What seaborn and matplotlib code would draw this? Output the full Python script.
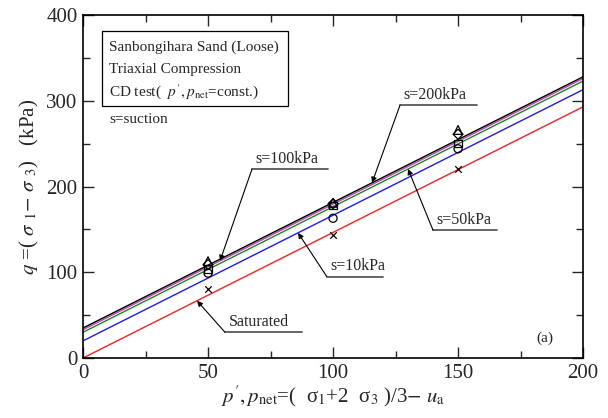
import numpy as np
import pandas as pd
import matplotlib
matplotlib.use("Agg")
import matplotlib.pyplot as plt
from matplotlib.patches import Rectangle
import seaborn as sns

# ---- data ----
series = ["Saturated", "s=10kPa", "s=50kPa", "s=100kPa", "s=200kPa"]
line_colors = ["#ff2020", "#1a1aff", "#1a8a1a", "#c040c0", "#000000"]
intercepts = [0.0, 20.0, 30.0, 33.0, 35.0]
slope = 1.465
x_range = [0, 200]

p_vals = [50, 100, 150]
q_sat = [80, 143, 220]
q_s10 = [99, 163, 244]
q_s50 = [104, 178, 250]
q_s100 = [113, 181, 266]
q_s200 = [109, 180, 261]
marker_series = [q_sat, q_s10, q_s50, q_s100, q_s200]
markers = ["x", "o", "s", "^", "D"]
marker_sizes = [22, 34, 30, 40, 26]

# annotation: (label, series index, arrow x on line, underline x0, underline x1, underline y)
ann_labels = ["s=100kPa", "s=200kPa", "s=50kPa", "s=10kPa", "Saturated"]
ann_series = [3, 4, 2, 1, 0]
ann_target_x = [54.8, 115.6, 130.0, 86.0, 45.6]
ann_x0 = [67.6, 126.8, 140.0, 97.5, 56.8]
ann_x1 = [98.0, 157.5, 165.6, 120.0, 87.5]
ann_y = [220.4, 295.0, 149.0, 95.0, 30.0]

box_lines = ["Sanbongihara Sand (Loose)", "Triaxial Compression",
             r"CD test(  $p',p_{\rm net}$=const.)"]

# ---- style ----
sns.set_style("ticks")
SERIF = ["Liberation Serif", "DejaVu Serif"]
plt.rcParams["font.family"] = SERIF
plt.rcParams["mathtext.fontset"] = "stix"

fig = plt.figure(figsize=(6.08, 4.18), dpi=100)
ax = fig.add_axes([0.1365, 0.1435, 0.8225, 0.8205])

rows = []
for name, b in zip(series, intercepts):
    for x in x_range:
        rows.append({"p": x, "q": b + slope * x, "series": name})
df_lines = pd.DataFrame(rows)
sns.lineplot(data=df_lines, x="p", y="q", hue="series", palette=dict(zip(series, line_colors)),
             hue_order=series, linewidth=1.0, legend=False, ax=ax)

for qs, mk, ms in zip(marker_series, markers, marker_sizes):
    if mk == "x":
        sns.scatterplot(x=p_vals, y=qs, marker=mk, s=ms, color="black", linewidth=0.9, ax=ax, zorder=5)
    else:
        sns.scatterplot(x=p_vals, y=qs, marker=mk, s=ms, facecolor="none", edgecolor="black",
                        linewidth=0.9, ax=ax, zorder=5)

for lab, si, tx, x0, x1, yy in zip(ann_labels, ann_series, ann_target_x, ann_x0, ann_x1, ann_y):
    ty = intercepts[si] + slope * tx
    ax.plot([x0, x1], [yy, yy], color="0.35", lw=1.3, zorder=4)
    ax.annotate("", xy=(tx, ty), xytext=(x0, yy),
                arrowprops=dict(arrowstyle="-|>", color="black", lw=0.8, mutation_scale=8,
                                shrinkA=0, shrinkB=0), zorder=4)
    ax.text(x0 + 1.5, yy + 2.5, lab, fontsize=11.5, ha="left", va="bottom", family=SERIF)

ax.add_patch(Rectangle((7.5, 293.6), 74.5, 87.4, fill=False, edgecolor="black", lw=0.9, zorder=3))
for t, yy in zip(box_lines, [363, 336.7, 310.5]):
    ax.text(10.4, yy, t, fontsize=11, ha="left", va="center", family=SERIF)
ax.text(10.4, 278.4, "s=suction", fontsize=11, ha="left", va="center", family=SERIF)
ax.text(184.8, 23.3, "(a)", fontsize=11, ha="center", va="center", family=SERIF)

ax.set_xlim(0, 200)
ax.set_ylim(0, 400)
ax.set_xticks([0, 50, 100, 150, 200])
ax.set_yticks([0, 100, 200, 300, 400])
ax.set_xticks([25, 75, 125, 175], minor=True)
ax.set_yticks([50, 150, 250, 350], minor=True)
ax.tick_params(which="both", direction="in", top=True, right=True, labelsize=15, width=1.0)
ax.tick_params(which="major", length=8, pad=4)
ax.tick_params(which="minor", length=5)
for sp in ax.spines.values():
    sp.set_linewidth(1.2)
    sp.set_color("black")

ax.set_xlabel(r"$p',p_{\rm net}$=(  σ$_1$+2  σ$_3$ )/3$-$ $u_{\rm a}$", fontsize=15, labelpad=1)
ax.set_ylabel(r"$q$ =( $\sigma$ $_1$$-$ $\sigma$ $_3$)   (kPa)", fontsize=15, labelpad=4)

fig.savefig("out.png", dpi=100)
